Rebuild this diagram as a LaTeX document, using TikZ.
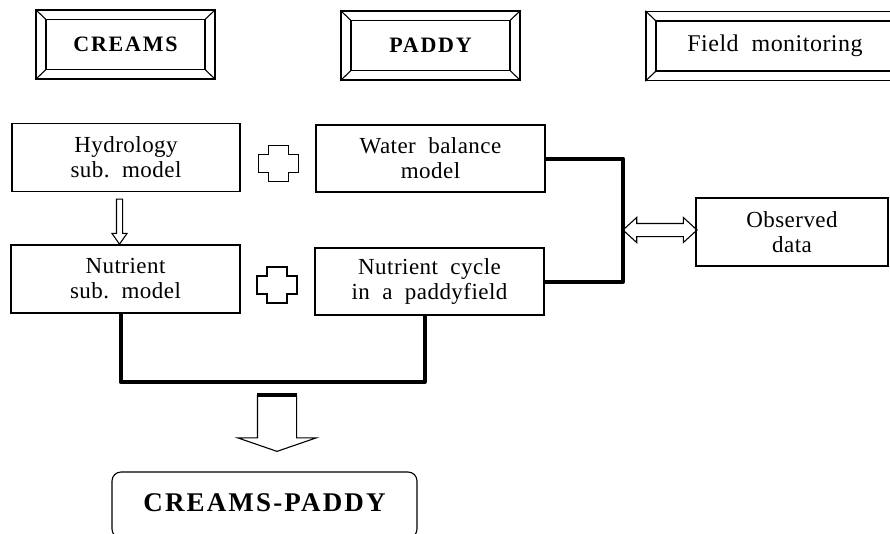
\documentclass[tikz,border=0pt]{standalone}
\usepackage{fontspec}
\setmainfont{Liberation Serif}[LetterSpace=2]
\newfontfamily\titlefont{Liberation Serif}[LetterSpace=8]
\usetikzlibrary{shapes.arrows}

\begin{document}
\begin{tikzpicture}[
  x = 1pt, y = -1pt,
  every node/.style = {font = \fontsize{23}{25}\selectfont, align = center},
  box/.style = {draw, line width = 1.1pt, minimum width = 229pt, minimum height = 67pt, inner sep = 0pt},
  frame/.style = {draw, line width = 1.4pt, minimum height = 69pt, inner sep = 0pt},
  title/.style = {draw, line width = 1.1pt, minimum height = 50pt, inner sep = 0pt,
    font = \fontsize{22}{22}\selectfont\titlefont\bfseries},
  link/.style = {line width = 4pt, line join = round},
  hollow/.style = {draw, line width = 1.1pt, single arrow, shape border rotate = 270}
  ]
  \useasboundingbox (0,0) rectangle (890,533);

  % program headings
  \node[frame, minimum width = 179pt] (frame-creams) at (125.5,44.5) {};
  \node[title, minimum width = 159pt] (creams) at (frame-creams) {CREAMS};
  \node[frame, minimum width = 179pt] (frame-paddy) at (430.5,45.5) {};
  \node[title, minimum width = 159pt] (paddy) at (frame-paddy) {PADDY};
  \node[frame, minimum width = 258pt] (frame-field) at (775,46) {};
  \node[title, minimum width = 238pt, font = \fontsize{24}{22}\selectfont] (field) at (frame-field) {Field\ \ monitoring};
  \foreach \f in {creams, paddy, field}
    \foreach \c in {north west, north east, south west, south east}
      \draw[line width = 1.1pt] (frame-\f.\c) -- (\f.\c);

  % sub models
  \node[box, minimum width = 228pt, minimum height = 68pt] (hydro) at (126,157.5) {Hydrology\\sub.\ \ model};
  \node[box] (water) at (430.5,158.5) {Water\ \ balance\\model};
  \node[box, minimum height = 68pt] (nsub) at (125.5,279) {Nutrient\\sub.\ \ model};
  \node[box] (ncycle) at (429.5,281.5) {Nutrient\ \ cycle\\in\ \ a\ \ paddyfield};
  \node[box, minimum width = 192pt, minimum height = 68pt] (obs) at (792,232) {Observed\\data};
  \node[draw, line width = 1.1pt, rounded corners = 9pt, minimum width = 305pt, minimum height = 66pt,
    inner sep = 0pt] (final) at (264.5,505) {};
  \node[font = \fontsize{27}{27}\selectfont\titlefont\bfseries] (finaltext) at (264.5,503) {CREAMS-PADDY};

  % plus signs
  \foreach \p in {(278.5,163.5), (277,285)}
    \draw[line width = 1.1pt] \p ++(-10,-18) -- ++(20,0) -- ++(0,9) -- ++(10,0) -- ++(0,18)
      -- ++(-10,0) -- ++(0,9) -- ++(-20,0) -- ++(0,-9) -- ++(-10,0) -- ++(0,-18) -- ++(10,0) -- cycle;

  % arrows
  \node[hollow, inner sep = 2.5pt, minimum height = 45pt, single arrow head extend = 4.5pt,
    single arrow tip angle = 70] (down) at (119.5,219.5) {};
  \node[hollow, inner sep = 19pt, minimum height = 56pt, single arrow head extend = 19.5pt,
    single arrow tip angle = 142] (result) at (277,420) {};
  \draw[line width = 4pt] (result.after tail) -- (result.before tail);
  \node[draw, line width = 1.1pt, double arrow, inner sep = 6pt, minimum height = 74pt,
    double arrow head extend = 6pt, double arrow tip angle = 85] (compare) at (660,230) {};

  % connectors
  \coordinate (bus) at (623,230);
  \coordinate (merge) at (277,382);
  \draw[link] (water.east) -| (bus) |- (ncycle.east);
  \draw[link] ([xshift = -5pt]nsub.south) |- (merge) -| ([xshift = -5pt]ncycle.south);
\end{tikzpicture}
\end{document}
